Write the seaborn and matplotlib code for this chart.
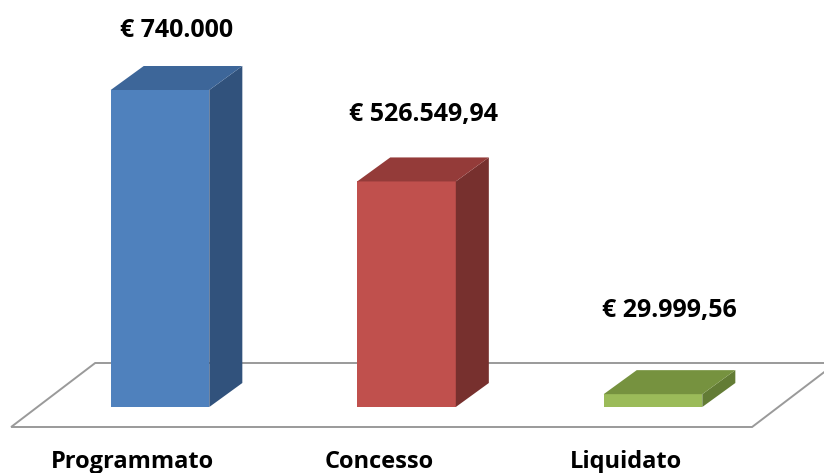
import seaborn as sns
import matplotlib.pyplot as plt
from matplotlib.patches import Polygon

categories = ['Programmato', 'Concesso', 'Liquidato']
values = [740000.00, 526549.94, 29999.56]
value_labels = ['€ 740.000', '€ 526.549,94', '€ 29.999,56']

front_colors = ['#4F81BD', '#C0504D', '#9BBB59']
top_colors = ['#3D6699', '#943B39', '#76923F']
side_colors = ['#31527C', '#77302E', '#637C35']

sns.set_theme(style='white')
plt.rcParams['font.family'] = ['Open Sans', 'DejaVu Sans']

fig = plt.figure(figsize=(8.24, 4.73), dpi=100)
ax = fig.add_axes([0, 0, 1, 1])

sns.barplot(x=categories, y=values, hue=categories, palette=front_colors,
            width=0.40, legend=False, saturation=1, linewidth=0, edgecolor='none',
            ax=ax, zorder=3)

# oblique projection of the depth (x in category units, y in euros)
eur_per_px = 740000 / 317
bar_dx, bar_dy = 0.134, 24 * eur_per_px
floor_dx, floor_dy = 0.341, 64 * eur_per_px

# floor
fy = -20 * eur_per_px
fx0, fx1 = -0.604, 2.402
floor = Polygon([(fx0, fy), (fx1, fy), (fx1 + floor_dx, fy + floor_dy),
                 (fx0 + floor_dx, fy + floor_dy)], closed=True,
                facecolor='white', edgecolor='#9A9A9A', lw=1.4, zorder=1)
ax.add_patch(floor)

for i, bar in enumerate(ax.patches[:len(values)]):
    x0 = bar.get_x()
    w = bar.get_width()
    h = bar.get_height()
    x1 = x0 + w
    side = Polygon([(x1, 0), (x1 + bar_dx, bar_dy), (x1 + bar_dx, h + bar_dy), (x1, h)],
                   closed=True, facecolor=side_colors[i], edgecolor='none', zorder=3)
    top = Polygon([(x0, h), (x1, h), (x1 + bar_dx, h + bar_dy), (x0 + bar_dx, h + bar_dy)],
                  closed=True, facecolor=top_colors[i], edgecolor='none', zorder=3)
    ax.add_patch(side)
    ax.add_patch(top)
    cx = x0 + (w + bar_dx) / 2
    ax.text(cx, 0.92 * h + 198800, value_labels[i], ha='center', va='center',
            fontsize=18, fontweight='bold', color='black')
    ax.text(x0 + w / 2 - 0.11, -55 * eur_per_px, categories[i], ha='center', va='center',
            fontsize=17, fontweight='bold', color='black')

ax.set_xlim(-160 / 246.5, 664 / 246.5)
ax.set_ylim(-66 * eur_per_px, 407 * eur_per_px)
ax.axis('off')

fig.savefig('out.png', dpi=100)
